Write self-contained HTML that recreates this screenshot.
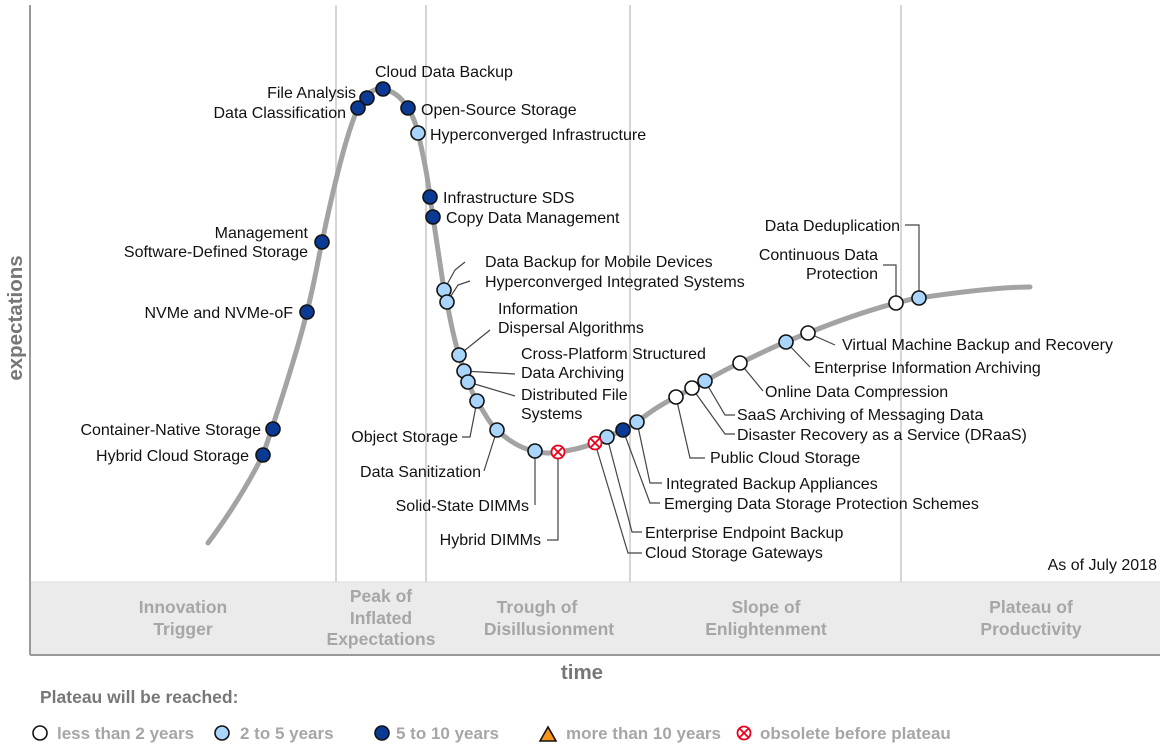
<!DOCTYPE html>
<html><head><meta charset="utf-8"><style>
body{margin:0;background:#fff;}
svg{display:block;font-family:"Liberation Sans",Arial,sans-serif;}
.l{font-size:16px;fill:#111;}
.ph{font-size:17.5px;fill:#a6a6a6;font-weight:bold;text-anchor:middle;}
.ld{stroke:#444;stroke-width:1.2;fill:none;}
.d{fill:#0a3a94;stroke:#111;stroke-width:1.6;}
.b{fill:#a9d4fb;stroke:#111;stroke-width:1.6;}
.w{fill:#fff;stroke:#111;stroke-width:1.6;}
.lg{font-size:17px;fill:#a6a6a6;font-weight:bold;}
</style></head><body>
<svg width="1162" height="750" viewBox="0 0 1162 750">
<rect x="30" y="582" width="1130" height="73" fill="#ebebeb"/>
<line x1="30" y1="582" x2="1160" y2="582" stroke="#ddd"/>
<g stroke="#d6d6d6" stroke-width="2">
<line x1="336" y1="5" x2="336" y2="582"/><line x1="426" y1="5" x2="426" y2="582"/>
<line x1="630" y1="5" x2="630" y2="582"/><line x1="901" y1="5" x2="901" y2="582"/>
</g>
<line x1="30" y1="5" x2="30" y2="655" stroke="#999" stroke-width="2"/>
<line x1="30" y1="655" x2="1160" y2="655" stroke="#999" stroke-width="2"/>
<text transform="translate(22,318) rotate(-90)" text-anchor="middle" font-size="20.5" font-weight="bold" fill="#777">expectations</text>
<text x="582" y="679" text-anchor="middle" font-size="20.5" font-weight="bold" fill="#777">time</text>
<text x="1157" y="570" text-anchor="end" font-size="16" fill="#111">As of July 2018</text>
<text class="ph" x="183" y="613">Innovation</text><text class="ph" x="183" y="635">Trigger</text>
<text class="ph" x="381" y="602">Peak of</text><text class="ph" x="381" y="624">Inflated</text><text class="ph" x="381" y="645">Expectations</text>
<text class="ph" x="537" y="613">Trough of</text><text class="ph" x="549" y="635">Disillusionment</text>
<text class="ph" x="766" y="613">Slope of</text><text class="ph" x="766" y="635">Enlightenment</text>
<text class="ph" x="1031" y="613">Plateau of</text><text class="ph" x="1031" y="635">Productivity</text>
<path d="M208,543 C240,500 255,470 263,455 C285,390 300,340 307,312 C315,280 318,260 322,242 C335,180 348,130 358,108 C366,92 375,88 383,89 C395,91 403,100 408,108 C414,118 416,125 418,133 C424,158 428,180 430,197 L433,217 C437,245 441,270 444,290 L447,302 C451,325 455,342 459,355 C464,370 470,390 477,401 C485,414 490,424 497,430 C510,442 522,449 535,451 C545,454 550,453 558,452 C575,450 585,447 595,443 C610,437 615,433 623,430 C630,426 632,425 637,422 C650,412 660,405 676,397 C690,389 697,386 705,381 C720,373 728,368 740,363 C760,354 770,348 786,342 C795,338 800,336 808,333 C840,320 870,310 896,303 C905,301 910,299 919,298 C960,292 1000,287 1030,287" fill="none" stroke="#a3a3a3" stroke-width="5" stroke-linecap="round"/>
<g class="ld">
<path d="M444,290 L455,270 L465,262"/><path d="M447,302 L458,285 L470,281"/>
<path d="M459,355 L490,330"/><path d="M464,371 L515,374"/><path d="M468,382 L515,396"/>
<path d="M477,401 L470,437 L462,437"/><path d="M497,430 L484,471"/>
<path d="M535,451 L535,505"/><path d="M558,452 L558,540 L547,540"/>
<path d="M595,443 L628,553 L642,553"/><path d="M607,437 L632,532 L642,532"/>
<path d="M623,430 L650,503 L660,503"/><path d="M637,422 L650,483 L662,483"/>
<path d="M676,397 L690,458 L705,458"/><path d="M692,388 L725,434 L735,434"/><path d="M705,381 L725,415 L735,415"/>
<path d="M740,363 L763,391"/><path d="M786,342 L810,367"/><path d="M808,333 L835,345"/>
<path d="M896,303 L896,265 L883,265"/><path d="M919,298 L919,225 L905,225"/>
</g>
<g class="l">
<text x="375" y="77">Cloud Data Backup</text>
<text x="356" y="98" text-anchor="end">File Analysis</text>
<text x="346" y="118" text-anchor="end">Data Classification</text>
<text x="421" y="115">Open-Source Storage</text>
<text x="430" y="140">Hyperconverged Infrastructure</text>
<text x="443" y="203">Infrastructure SDS</text>
<text x="446" y="223">Copy Data Management</text>
<text x="308" y="238" text-anchor="end">Management</text>
<text x="308" y="257" text-anchor="end">Software-Defined Storage</text>
<text x="485" y="267">Data Backup for Mobile Devices</text>
<text x="485" y="287">Hyperconverged Integrated Systems</text>
<text x="498" y="314">Information</text><text x="498" y="333">Dispersal Algorithms</text>
<text x="521" y="359">Cross-Platform Structured</text><text x="521" y="378">Data Archiving</text>
<text x="521" y="400">Distributed File</text><text x="521" y="419">Systems</text>
<text x="293" y="318" text-anchor="end">NVMe and NVMe-oF</text>
<text x="261" y="435" text-anchor="end">Container-Native Storage</text>
<text x="249" y="461" text-anchor="end">Hybrid Cloud Storage</text>
<text x="458" y="442" text-anchor="end">Object Storage</text>
<text x="481" y="477" text-anchor="end">Data Sanitization</text>
<text x="529" y="511" text-anchor="end">Solid-State DIMMs</text>
<text x="541" y="545" text-anchor="end">Hybrid DIMMs</text>
<text x="645" y="558">Cloud Storage Gateways</text>
<text x="645" y="538">Enterprise Endpoint Backup</text>
<text x="664" y="509">Emerging Data Storage Protection Schemes</text>
<text x="666" y="489">Integrated Backup Appliances</text>
<text x="710" y="463">Public Cloud Storage</text>
<text x="737" y="440">Disaster Recovery as a Service (DRaaS)</text>
<text x="737" y="420">SaaS Archiving of Messaging Data</text>
<text x="765" y="397">Online Data Compression</text>
<text x="814" y="373">Enterprise Information Archiving</text>
<text x="842" y="350">Virtual Machine Backup and Recovery</text>
<text x="878" y="260" text-anchor="end">Continuous Data</text><text x="878" y="279" text-anchor="end">Protection</text>
<text x="900" y="231" text-anchor="end">Data Deduplication</text>
</g>
<g>
<circle class="d" cx="383" cy="89" r="7"/><circle class="d" cx="367" cy="98" r="7"/><circle class="d" cx="358" cy="108" r="7"/>
<circle class="d" cx="408" cy="108" r="7"/><circle class="b" cx="418" cy="133" r="7"/>
<circle class="d" cx="430" cy="197" r="7"/><circle class="d" cx="433" cy="217" r="7"/>
<circle class="d" cx="322" cy="242" r="7"/><circle class="d" cx="307" cy="312" r="7"/>
<circle class="d" cx="273" cy="429" r="7"/><circle class="d" cx="263" cy="455" r="7"/>
<circle class="b" cx="444" cy="290" r="7"/><circle class="b" cx="447" cy="302" r="7"/>
<circle class="b" cx="459" cy="355" r="7"/><circle class="b" cx="464" cy="371" r="7"/><circle class="b" cx="468" cy="382" r="7"/>
<circle class="b" cx="477" cy="401" r="7"/><circle class="b" cx="497" cy="430" r="7"/><circle class="b" cx="535" cy="451" r="7"/>
<circle class="b" cx="607" cy="437" r="7"/><circle class="d" cx="623" cy="430" r="7"/><circle class="b" cx="637" cy="422" r="7"/>
<circle class="w" cx="676" cy="397" r="7"/><circle class="w" cx="692" cy="388" r="7"/><circle class="b" cx="705" cy="381" r="7"/>
<circle class="w" cx="740" cy="363" r="7"/><circle class="b" cx="786" cy="342" r="7"/><circle class="w" cx="808" cy="333" r="7"/>
<circle class="w" cx="896" cy="303" r="7"/><circle class="b" cx="919" cy="298" r="7"/>
</g>
<g stroke="#e8001c" stroke-width="1.8" fill="#fff">
<circle cx="558" cy="452" r="6.5"/><path d="M554,448 L562,456 M562,448 L554,456"/>
<circle cx="595" cy="443" r="6.5"/><path d="M591,439 L599,447 M599,439 L591,447"/>
</g>
<text x="40" y="703" font-size="17.5" font-weight="bold" fill="#777">Plateau will be reached:</text>
<circle class="w" cx="40" cy="733" r="7"/><text class="lg" x="57" y="739">less than 2 years</text>
<circle class="b" cx="222" cy="733" r="7"/><text class="lg" x="240" y="739">2 to 5 years</text>
<circle class="d" cx="382" cy="733" r="7"/><text class="lg" x="396" y="739">5 to 10 years</text>
<path d="M540,741 L548,727 L556,741 Z" fill="#f7941d" stroke="#111" stroke-width="1.6"/><text class="lg" x="566" y="739">more than 10 years</text>
<g stroke="#e8001c" stroke-width="1.8" fill="#fff"><circle cx="744" cy="733" r="6.5"/><path d="M740,729 L748,737 M748,729 L740,737"/></g>
<text class="lg" x="760" y="739">obsolete before plateau</text>
</svg>
</body></html>
